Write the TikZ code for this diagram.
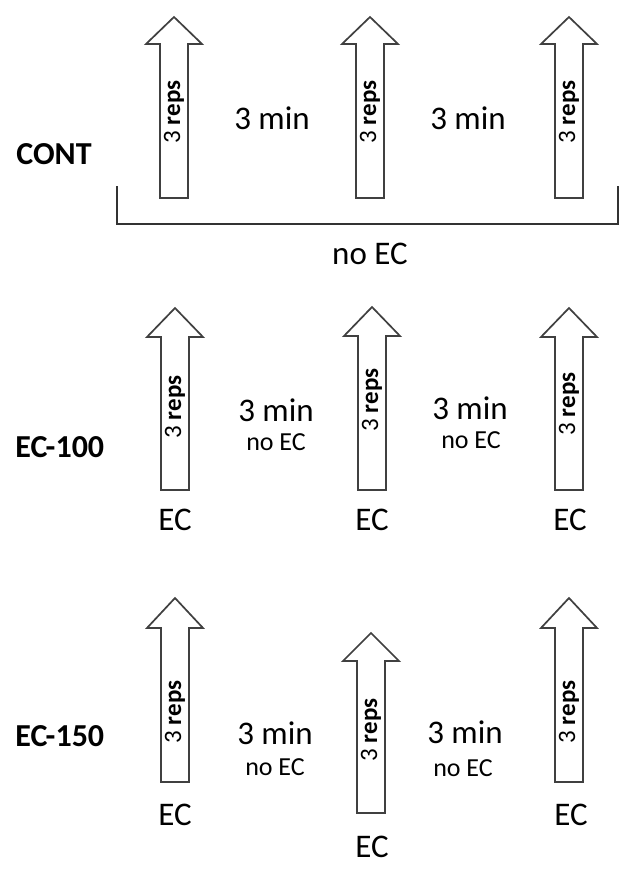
\documentclass[tikz,border=0pt]{standalone}
\usepackage{fontspec}
\setmainfont{Carlito}
\tikzset{
  arrowline/.style={draw=black!75, line width=0.85pt, fill=white, line join=miter},
  repstext/.style={rotate=90, font=\fontsize{12.5}{14}\selectfont, inner sep=0pt},
  bigtext/.style={font=\fontsize{16.5}{19}\selectfont, inner sep=0pt},
  smalltext/.style={font=\fontsize{13}{15}\selectfont, inner sep=0pt},
  grouplabel/.style={font=\fontsize{16}{19}\selectfont\bfseries, inner sep=0pt, anchor=west},
  bracketline/.style={draw=black!80, line width=0.85pt}
}
% name, cx, tip, headbase, bottom, textcenter
\newcommand\repsarrow[6]{%
  \draw[arrowline] (#2-14,#5) -- (#2-14,#4) -- (#2-28,#4) -- (#2,#3) -- (#2+28,#4) -- (#2+14,#4) -- (#2+14,#5) -- cycle;
  \node[repstext] (#1) at (#2,#6) {3 \textbf{reps}};}
\begin{document}
\begin{tikzpicture}[x=0.5pt,y=-0.5pt]
\useasboundingbox (0,0) rectangle (636,869);
\fill[white] (0,0) rectangle (636,869);
% ---------- CONT ----------
\node[grouplabel] (cont) at (16,154) {CONT};
\repsarrow{a11}{174}{17}{44}{198}{112}
\repsarrow{a12}{370}{17}{44}{198}{112}
\repsarrow{a13}{569}{17}{44}{198}{112}
\node[bigtext] (m11) at (272,118) {3 min};
\node[bigtext] (m12) at (468,118) {3 min};
\coordinate (bl) at (117,186);
\coordinate (br) at (618,186);
\draw[bracketline] (bl) -- (117,224) -- (618,224) -- (br);
\node[bigtext] (noec1) at (370,254) {no EC};
% ---------- EC-100 ----------
\node[grouplabel] (ec100) at (15,447) {EC-100};
\repsarrow{a21}{175}{308}{337}{490}{407}
\repsarrow{a22}{372}{307}{336}{490}{400}
\repsarrow{a23}{569}{308}{337}{490}{404}
\node[bigtext] (m21) at (276,410) {3 min};
\node[smalltext] (n21) at (276,442) {no EC};
\node[bigtext] (m22) at (470,408) {3 min};
\node[smalltext] (n22) at (471,440) {no EC};
\node[bigtext] (e21) at (175,520) {EC};
\node[bigtext] (e22) at (372,520) {EC};
\node[bigtext] (e23) at (570,520) {EC};
% ---------- EC-150 ----------
\node[grouplabel] (ec150) at (15,736) {EC-150};
\repsarrow{a31}{175}{598}{628}{782}{712}
\repsarrow{a32}{371}{633}{661}{813}{730}
\repsarrow{a33}{569}{598}{628}{782}{712}
\node[bigtext] (m31) at (275,733) {3 min};
\node[smalltext] (n31) at (275,767) {no EC};
\node[bigtext] (m32) at (465,732) {3 min};
\node[smalltext] (n32) at (463,768) {no EC};
\node[bigtext] (e31) at (175,815) {EC};
\node[bigtext] (e32) at (372,847) {EC};
\node[bigtext] (e33) at (571,815) {EC};
\end{tikzpicture}
\end{document}
